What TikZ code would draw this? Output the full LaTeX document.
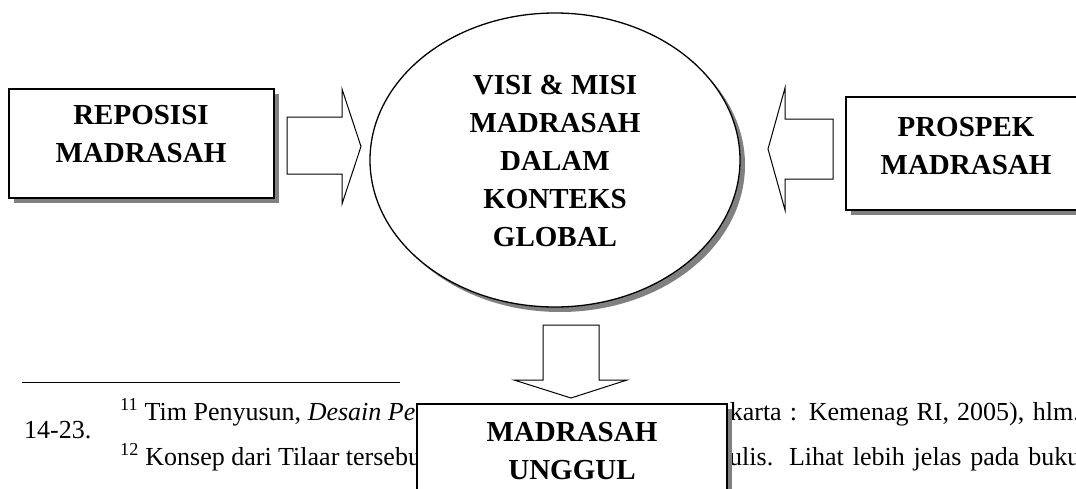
\documentclass[tikz,border=0pt]{standalone}
\usepackage{fontspec}
\setmainfont{Liberation Serif}
\usetikzlibrary{shadows,shapes.geometric}
\begin{document}
\begin{tikzpicture}[x=1pt,y=-1pt,
  big/.style={font=\fontsize{29}{38}\selectfont\bfseries, align=center, inner sep=0pt},
  foot/.style={font=\fontsize{26}{30}\selectfont, inner sep=0pt},
  shad/.style={drop shadow={shadow xshift=5pt,shadow yshift=-5pt,opacity=1,fill=black!50}},
  boxed/.style={draw, line width=1.6pt, fill=white, shad, inner sep=0pt},
  blockarrow/.style={draw, line width=1pt, fill=white, line join=miter}]
\useasboundingbox (0,0) rectangle (1076,488);
\clip (0,0) rectangle (1076,488);

% left box
\node[boxed, minimum width=265, minimum height=109] (rep) at (141.5,143.5) {};
\node[big] (repT) at (141,134) {REPOSISI\\MADRASAH};

% ellipse
\node[draw, ellipse, minimum width=370, minimum height=294, line width=1.3pt,
      fill=white, shad, inner sep=0pt] (vis) at (555,160) {};
\node[big] (visT) at (555,161) {VISI \& MISI\\MADRASAH\\DALAM\\KONTEKS\\GLOBAL};

% right box
\node[boxed, minimum width=260, minimum height=113] (pro) at (976,153.5) {};
\node[big] (proT) at (966,146.5) {PROSPEK\\MADRASAH};

% block arrows
\draw[blockarrow] (287,117) -- (342,117) -- (342,89) -- (361,146.5) -- (342,204) -- (342,174) -- (287,174) -- cycle;
\draw[blockarrow] (833,119) -- (785,119) -- (785,88) -- (768,149) -- (785,210) -- (785,179) -- (833,179) -- cycle;
\draw[blockarrow] (543,325) -- (599,325) -- (599,380) -- (627,380) -- (571,398) -- (514,380) -- (543,380) -- cycle;

% footnotes
\coordinate (r1) at (22,382.5);
\coordinate (r2) at (400,382.5);
\draw[line width=1.3pt] (r1) -- (r2);
\node[foot, anchor=base west] (f1a) at (120,420) {\textsuperscript{11} Tim Penyusun, \textit{Desain Per}};
\node[foot, anchor=base east] (f1b) at (1080,420) {\makebox[350pt][s]{karta : Kemenag RI, 2005), hlm.}};
\node[foot, anchor=base west] (f2) at (24,438) {14-23.};
\node[foot, anchor=base west] (f3a) at (120,465) {\textsuperscript{12} Konsep dari Tilaar tersebut};
\node[foot, anchor=base west] (f3b) at (729,465) {\makebox[351pt][s]{ulis. Lihat lebih jelas pada buku}};

% bottom box
\node[boxed, minimum width=310, minimum height=110] (ung) at (572,459) {};
\node[big] (ungT) at (572,451) {MADRASAH\\UNGGUL};
\end{tikzpicture}
\end{document}
